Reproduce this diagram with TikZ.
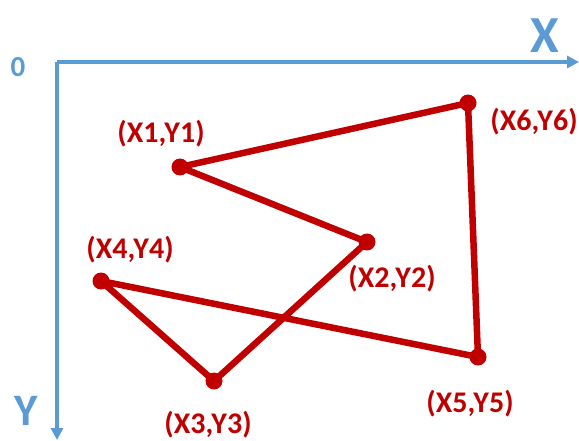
\documentclass[tikz,border=0pt]{standalone}
\usepackage{fontspec}
\setmainfont{Carlito}
\usetikzlibrary{arrows.meta}
\definecolor{axisblue}{RGB}{91,155,213}
\definecolor{polyred}{RGB}{192,0,0}
\tikzset{
  axis/.style={draw=axisblue, line width=3.4pt},
  edge/.style={draw=polyred, line width=6.5pt, line cap=round, line join=round},
  pt/.style={circle, fill=polyred, inner sep=0pt, minimum size=17pt},
  plabel/.style={text=polyred, font=\bfseries\fontsize{30}{32}\selectfont, inner sep=0pt},
  alabel/.style={text=axisblue, font=\bfseries, inner sep=0pt}
}
\begin{document}
\begin{tikzpicture}[x=1pt,y=-1pt]
\useasboundingbox (0,0) rectangle (579,441);
% axes
\coordinate (O) at (57,62);
\coordinate (XE) at (579,62);
\coordinate (YE) at (57,440);
\draw[axis, -{Triangle[length=12pt,width=12pt]}] (O) -- (XE);
\draw[axis, -{Triangle[length=12pt,width=12pt]}] (O) -- (YE);
\node[alabel, font=\bfseries\fontsize{29}{31}\selectfont] (zero) at (18,67) {0};
\node[alabel, font=\bfseries\fontsize{52}{54}\selectfont] (xl) at (545,36) {X};
\node[alabel, font=\bfseries\fontsize{45}{47}\selectfont] (yl) at (26,411) {Y};
% polygon
\coordinate (P1) at (180,167);
\coordinate (P2) at (367,242);
\coordinate (P3) at (214,381);
\coordinate (P4) at (101,281);
\coordinate (P5) at (478,357);
\coordinate (P6) at (468,103);
\draw[edge] (P1) -- (P2) -- (P3) -- (P4) -- (P5) -- (P6) -- cycle;
\foreach \p in {P1,P2,P3,P4,P5,P6} \node[pt] at (\p) {};
% labels
\node[plabel] (L1) at (161,134) {(X1,Y1)};
\node[plabel] (L2) at (392,279) {(X2,Y2)};
\node[plabel] (L3) at (208,425) {(X3,Y3)};
\node[plabel] (L4) at (130,250) {(X4,Y4)};
\node[plabel] (L5) at (470,404) {(X5,Y5)};
\node[plabel] (L6) at (534,122) {(X6,Y6)};
\end{tikzpicture}
\end{document}
